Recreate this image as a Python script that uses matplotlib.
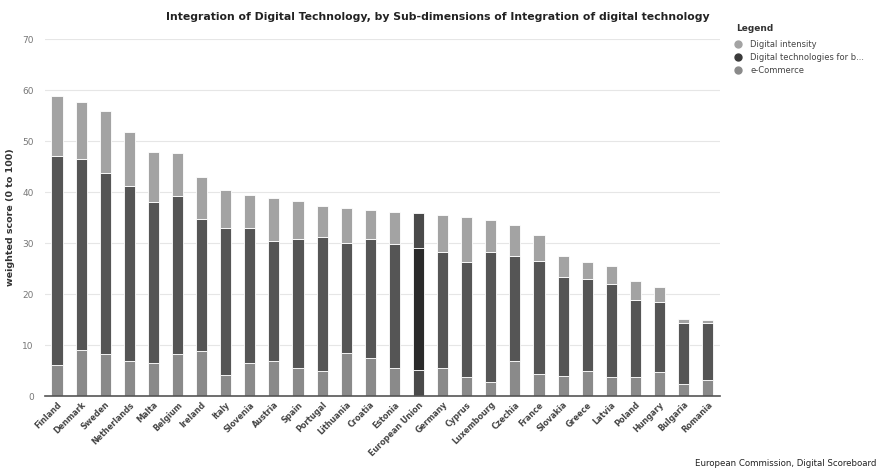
import matplotlib.pyplot as plt
from matplotlib.lines import Line2D

# Countries, sorted by total score
countries = ['Finland', 'Denmark', 'Sweden', 'Netherlands', 'Malta', 'Belgium',
             'Ireland', 'Italy', 'Slovenia', 'Austria', 'Spain', 'Portugal',
             'Lithuania', 'Croatia', 'Estonia', 'European Union', 'Germany',
             'Cyprus', 'Luxembourg', 'Czechia', 'France', 'Slovakia', 'Greece',
             'Latvia', 'Poland', 'Hungary', 'Bulgaria', 'Romania']

# Sub-dimension scores (stacked bottom -> top: e-Commerce, Digital technologies, Digital intensity)
e_commerce = [6.1, 9.0, 8.2, 6.9, 6.4, 8.2, 8.8, 4.2, 6.5, 6.9, 5.5, 5.0,
              8.4, 7.5, 5.4, 5.2, 5.4, 3.8, 2.7, 6.9, 4.3, 3.9, 4.9,
              3.8, 3.8, 4.8, 2.4, 3.1]
digital_tech = [41.0, 37.5, 35.5, 34.3, 31.6, 31.0, 25.9, 28.7, 26.4, 23.6, 25.3, 26.2,
                21.7, 23.3, 24.4, 23.9, 22.8, 22.5, 25.6, 20.6, 22.2, 19.4, 18.0,
                18.2, 15.0, 13.7, 11.9, 11.3]
digital_intensity = [11.7, 11.2, 12.2, 10.6, 9.8, 8.5, 8.3, 7.5, 6.5, 8.3, 7.5, 6.1,
                     6.8, 5.7, 6.3, 6.8, 7.4, 8.8, 6.3, 6.0, 5.1, 4.2, 3.4,
                     3.5, 3.7, 2.8, 0.9, 0.5]

c_di, c_dt, c_ec = '#a3a3a3', '#555555', '#8a8a8a'
eu_di, eu_dt, eu_ec = '#4a4a4a', '#2a2a2a', '#4a4a4a'

fig = plt.figure(figsize=(8.81, 4.72), dpi=100)
ax = fig.add_axes([0.051, 0.161, 0.766, 0.756])

x = list(range(len(countries)))
is_eu = [c == 'European Union' for c in countries]
col_ec = [eu_ec if e else c_ec for e in is_eu]
col_dt = [eu_dt if e else c_dt for e in is_eu]
col_di = [eu_di if e else c_di for e in is_eu]
bottom2 = [a + b for a, b in zip(e_commerce, digital_tech)]

w = 0.46
ax.bar(x, e_commerce, width=w, color=col_ec, edgecolor='white', linewidth=0.6, zorder=2)
ax.bar(x, digital_tech, width=w, bottom=e_commerce, color=col_dt, edgecolor='white', linewidth=0.6, zorder=2)
ax.bar(x, digital_intensity, width=w, bottom=bottom2, color=col_di, edgecolor='white', linewidth=0.6, zorder=2)

ax.set_xlim(-0.5, len(countries) - 0.5)
ax.set_ylim(0, 70)
ax.set_yticks(range(0, 71, 10))
ax.tick_params(axis='y', length=0, labelsize=6.5, labelcolor='#777777', pad=8)
ax.tick_params(axis='x', length=0, pad=3)
ax.set_xticks(x)
ax.set_xticklabels(countries, rotation=45, ha='right', rotation_mode='anchor',
                   fontsize=5.8, fontweight='bold', color='#444444')
ax.grid(axis='y', color='#e6e6e6', linewidth=0.8, zorder=0)
ax.set_axisbelow(True)
for s in ['top', 'right', 'left']:
    ax.spines[s].set_visible(False)
ax.spines['bottom'].set_color('#555555')
ax.spines['bottom'].set_linewidth(1.2)

ax.set_ylabel('weighted score (0 to 100)', fontsize=6.8, fontweight='bold', color='#333333', labelpad=5)

fig.text(0.497, 0.965, 'Integration of Digital Technology, by Sub-dimensions of Integration of digital technology',
         ha='center', va='center', fontsize=7.8, fontweight='bold', color='#222222')

# Legend
fig.text(0.836, 0.94, 'Legend', fontsize=6.5, fontweight='bold', color='#333333', va='center')
handles = [Line2D([], [], marker='o', linestyle='', markersize=5, color=c) for c in (c_di, '#3a3a3a', c_ec)]
labels = ['Digital intensity', 'Digital technologies for b...', 'e-Commerce']
fig.legend(handles, labels, loc='upper left', bbox_to_anchor=(0.830, 0.922), frameon=False,
           fontsize=6, labelspacing=0.45, handletextpad=1.1, borderaxespad=0, handlelength=0.8,
           labelcolor='#444444')

fig.text(0.995, 0.018, 'European Commission, Digital Scoreboard', ha='right', va='center',
         fontsize=6.2, color='#222222')

fig.savefig('out.png', dpi=100)
